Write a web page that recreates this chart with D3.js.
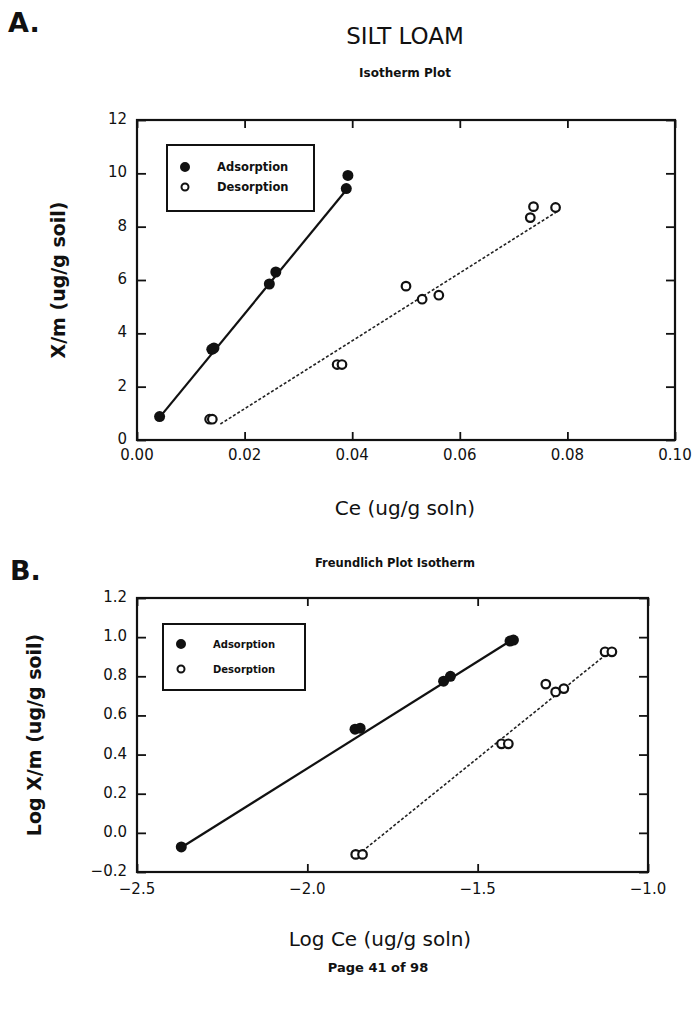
<!DOCTYPE html>
<html>
<head>
<meta charset="utf-8">
<script src="https://cdn.jsdelivr.net/npm/d3@7"></script>
<style>
  body { margin: 0; background: #fff; }
  text { font-family: "DejaVu Sans", sans-serif; fill: #111; }
</style>
</head>
<body>
<div id="chart"></div>
<script>
const width = 694;
const height = 1015;

// ---- panel A : isotherm (Ce vs X/m)
const adsA_ce = [0.0042, 0.0139, 0.0143, 0.0246, 0.0258, 0.0389, 0.0392];
const adsA_xm = [0.88, 3.40, 3.45, 5.85, 6.30, 9.43, 9.92];
const desA_ce = [0.0135, 0.0140, 0.0372, 0.0381, 0.0500, 0.0530, 0.0561, 0.0731, 0.0737, 0.0778];
const desA_xm = [0.78, 0.78, 2.83, 2.83, 5.77, 5.28, 5.43, 8.34, 8.75, 8.72];
const fitA_ads = [[0.0042, 0.85], [0.0392, 9.45]];
const fitA_des = [[0.0155, 0.60], [0.0785, 8.62]];
const xTicksA = [0, 0.02, 0.04, 0.06, 0.08, 0.10];
const yTicksA = [0, 2, 4, 6, 8, 10, 12];

// ---- panel B : Freundlich (log Ce vs log X/m)
const adsB_logce = [-2.37, -1.86, -1.845, -1.60, -1.58, -1.405, -1.395];
const adsB_logxm = [-0.072, 0.530, 0.535, 0.775, 0.800, 0.980, 0.985];
const desB_logce = [-1.858, -1.838, -1.430, -1.410, -1.300, -1.271, -1.247, -1.126, -1.106];
const desB_logxm = [-0.110, -0.110, 0.455, 0.455, 0.760, 0.720, 0.737, 0.925, 0.925];
const fitB_ads = [[-2.37, -0.075], [-1.40, 0.985]];
const fitB_des = [[-1.85, -0.110], [-1.11, 0.930]];
const xTicksB = [-2.5, -2.0, -1.5, -1.0];
const yTicksB = [-0.2, 0.0, 0.2, 0.4, 0.6, 0.8, 1.0, 1.2];

const legendNames = ["Adsorption", "Desorption"];

const svg = d3.select("#chart").append("svg")
    .attr("width", width)
    .attr("height", height);

function zip(a, b) { return a.map((v, i) => [v, b[i]]); }

function drawPanel(opt) {
    const x = d3.scaleLinear().domain(opt.xDomain).range([opt.left, opt.right]);
    const y = d3.scaleLinear().domain(opt.yDomain).range([opt.bottom, opt.top]);
    const g = svg.append("g");

    // frame
    g.append("rect")
        .attr("x", opt.left).attr("y", opt.top)
        .attr("width", opt.right - opt.left)
        .attr("height", opt.bottom - opt.top)
        .attr("fill", "none").attr("stroke", "#111").attr("stroke-width", 2.2);

    // inward ticks on all sides
    const axB = g.append("g").attr("transform", `translate(0,${opt.bottom})`)
        .call(d3.axisTop(x).tickValues(opt.xTicks).tickSize(8).tickFormat(""));
    const axT = g.append("g").attr("transform", `translate(0,${opt.top})`)
        .call(d3.axisBottom(x).tickValues(opt.xTicks).tickSize(8).tickFormat(""));
    const axL = g.append("g").attr("transform", `translate(${opt.left},0)`)
        .call(d3.axisRight(y).tickValues(opt.yTicks).tickSize(9).tickFormat(""));
    const axR = g.append("g").attr("transform", `translate(${opt.right},0)`)
        .call(d3.axisLeft(y).tickValues(opt.yTicks).tickSize(9).tickFormat(""));
    [axB, axT, axL, axR].forEach(a => {
        a.select(".domain").remove();
        a.selectAll("line").attr("stroke", "#111").attr("stroke-width", 1.8);
    });

    // tick labels
    g.selectAll(".xl").data(opt.xTicks).enter().append("text")
        .attr("x", d => x(d)).attr("y", opt.bottom + opt.xLabOff)
        .attr("text-anchor", "middle").attr("font-size", "15px")
        .text(opt.xFmt);
    g.selectAll(".yl").data(opt.yTicks).enter().append("text")
        .attr("x", opt.left - 10).attr("y", d => y(d) + 4)
        .attr("text-anchor", "end").attr("font-size", "15px")
        .text(opt.yFmt);

    // axis titles
    g.append("text")
        .attr("x", opt.xTitleX).attr("y", opt.xTitleY)
        .attr("text-anchor", "middle").attr("font-size", "20px")
        .text(opt.xTitle);
    g.append("text")
        .attr("transform", `translate(${opt.yTitleX},${opt.yTitleY}) rotate(-90)`)
        .attr("text-anchor", "middle").attr("font-size", "19px")
        .attr("font-weight", "bold")
        .text(opt.yTitle);

    const line = d3.line().x(d => x(d[0])).y(d => y(d[1]));
    g.append("path").datum(opt.fitAds).attr("d", line)
        .attr("fill", "none").attr("stroke", "#111").attr("stroke-width", 2.2);
    g.append("path").datum(opt.fitDes).attr("d", line)
        .attr("fill", "none").attr("stroke", "#222").attr("stroke-width", 1.6)
        .attr("stroke-dasharray", "3,2");

    g.selectAll(".ads").data(opt.ads).enter().append("circle")
        .attr("cx", d => x(d[0])).attr("cy", d => y(d[1])).attr("r", 5.5)
        .attr("fill", "#111");
    g.selectAll(".des").data(opt.des).enter().append("circle")
        .attr("cx", d => x(d[0])).attr("cy", d => y(d[1])).attr("r", 4.3)
        .attr("fill", "#fff").attr("stroke", "#111").attr("stroke-width", 2.2);

    // legend
    const L = opt.legend;
    g.append("rect")
        .attr("x", L.x).attr("y", L.y).attr("width", L.w).attr("height", L.h)
        .attr("fill", "#fff").attr("stroke", "#111").attr("stroke-width", 2);
    legendNames.forEach((name, i) => {
        const cy = L.y + L.row0 + i * L.dy;
        g.append("circle").attr("cx", L.x + 18).attr("cy", cy)
            .attr("r", i === 0 ? 4 : 3.5)
            .attr("fill", i === 0 ? "#111" : "#fff")
            .attr("stroke", "#111").attr("stroke-width", 2);
        g.append("text").attr("x", L.x + 50).attr("y", cy + 4)
            .attr("font-size", L.fs).attr("font-weight", "bold")
            .text(name);
    });
    return { x, y };
}

// titles
svg.append("text").attr("x", 8).attr("y", 32)
    .attr("font-size", "27px").attr("font-weight", "bold").text("A.");
svg.append("text").attr("x", 405).attr("y", 44)
    .attr("text-anchor", "middle").attr("font-size", "23px").text("SILT LOAM");
svg.append("text").attr("x", 405).attr("y", 77)
    .attr("text-anchor", "middle").attr("font-size", "12px").attr("font-weight", "bold")
    .text("Isotherm Plot");

drawPanel({
    left: 137, right: 675, top: 120, bottom: 440,
    xDomain: [0, 0.10], yDomain: [0, 12],
    xTicks: xTicksA, yTicks: yTicksA, xLabOff: 20,
    xFmt: d3.format(".2f"), yFmt: d3.format("d"),
    xTitle: "Ce (ug/g soln)", xTitleX: 405, xTitleY: 515,
    yTitle: "X/m (ug/g soil)", yTitleX: 65, yTitleY: 280,
    ads: zip(adsA_ce, adsA_xm), des: zip(desA_ce, desA_xm),
    fitAds: fitA_ads, fitDes: fitA_des,
    legend: { x: 167, y: 145, w: 147, h: 66, row0: 22, dy: 20, fs: "11.5px" }
});

svg.append("text").attr("x", 10).attr("y", 580)
    .attr("font-size", "27px").attr("font-weight", "bold").text("B.");
svg.append("text").attr("x", 395).attr("y", 567)
    .attr("text-anchor", "middle").attr("font-size", "11.5px").attr("font-weight", "bold")
    .text("Freundlich Plot Isotherm");

drawPanel({
    left: 137, right: 648, top: 598, bottom: 872,
    xDomain: [-2.5, -1.0], yDomain: [-0.2, 1.2],
    xTicks: xTicksB, yTicks: yTicksB, xLabOff: 22,
    xFmt: d => d3.format(".1f")(d).replace("-", "\u2212"),
    yFmt: d => d3.format(".1f")(d).replace("-", "\u2212"),
    xTitle: "Log Ce (ug/g soln)", xTitleX: 380, xTitleY: 946,
    yTitle: "Log X/m (ug/g soil)", yTitleX: 41, yTitleY: 735,
    ads: zip(adsB_logce, adsB_logxm), des: zip(desB_logce, desB_logxm),
    fitAds: fitB_ads, fitDes: fitB_des,
    legend: { x: 163, y: 624, w: 142, h: 66, row0: 20, dy: 25, fs: "10px" }
});

svg.append("text").attr("x", 378).attr("y", 972)
    .attr("text-anchor", "middle").attr("font-size", "13px").attr("font-weight", "bold")
    .text("Page 41 of 98");
</script>
</body>
</html>
